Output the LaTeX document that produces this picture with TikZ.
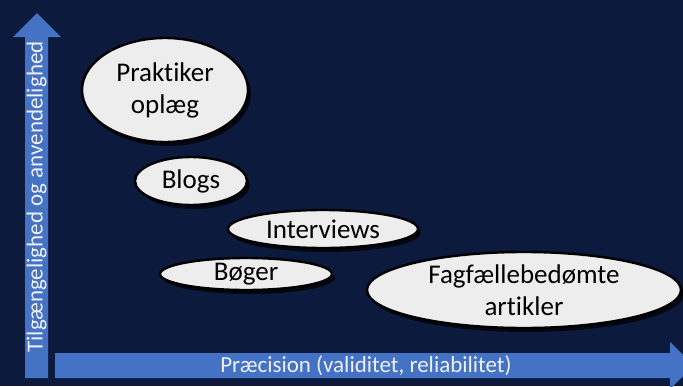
\documentclass[tikz,border=0pt]{standalone}
\usepackage{fontspec}
\setmainfont{Carlito}[Ligatures=NoCommon]
\usetikzlibrary{shapes.geometric,shadows}
\definecolor{baggrund}{HTML}{0C1A3E}
\definecolor{pil}{HTML}{4472C4}
\definecolor{boble}{HTML}{EDEDED}
\definecolor{akstekst}{HTML}{F0F0F4}

\begin{document}
\begin{tikzpicture}[x=1pt,y=-1pt,
  kilde/.style={ellipse,draw=black,line width=2.4pt,fill=boble,inner sep=-12pt,align=center,
    font=\fontsize{27}{32}\selectfont,
    drop shadow={shadow xshift=3pt,shadow yshift=-4pt,opacity=.7,fill=black}},
  akse/.style={text=akstekst,inner sep=0pt,font=\fontsize{23}{26}\selectfont}]
\def\bund{378};%bund af akserne
\def\pilhoved{24};%laengde af pilehoved

%Baggrund
\fill[baggrund] (0,0) rectangle (683,386);
\clip (0,0) rectangle (683,386);

%Akser
\fill[pil] (25,\bund) -- (25,37) -- (13,37) -- (37,13) -- (61,37) -- (48,37) -- (48,\bund) -- cycle;
\fill[pil] (55,353) -- (670,353) -- (670,342) -- (670+\pilhoved,365.5) -- (670,389) -- (670,\bund) -- (55,\bund) -- cycle;
\node[akse,rotate=90] (yakse) at (36.5,197) {Tilgængelighed og anvendelighed};
\node[akse] (xakse) at (366,366) {Præcision (validitet, reliabilitet)};

%Kilder
\node[kilde,minimum width=166pt,minimum height=104pt] (praktiker) at (165,90) {Praktiker\\oplæg};
\node[kilde,minimum width=112pt,minimum height=48pt] (blogs) at (191,181) {Blogs};
\node[kilde,minimum width=190pt,minimum height=38pt] (interviews) at (323,229) {Interviews};
\node[kilde,minimum width=172pt,minimum height=32pt] (boger) at (246,274) {Bøger};
\node[kilde,minimum width=314pt,minimum height=76pt] (fagfaelle) at (524,290) {Fagfællebedømte\\artikler};
\end{tikzpicture}
\end{document}
